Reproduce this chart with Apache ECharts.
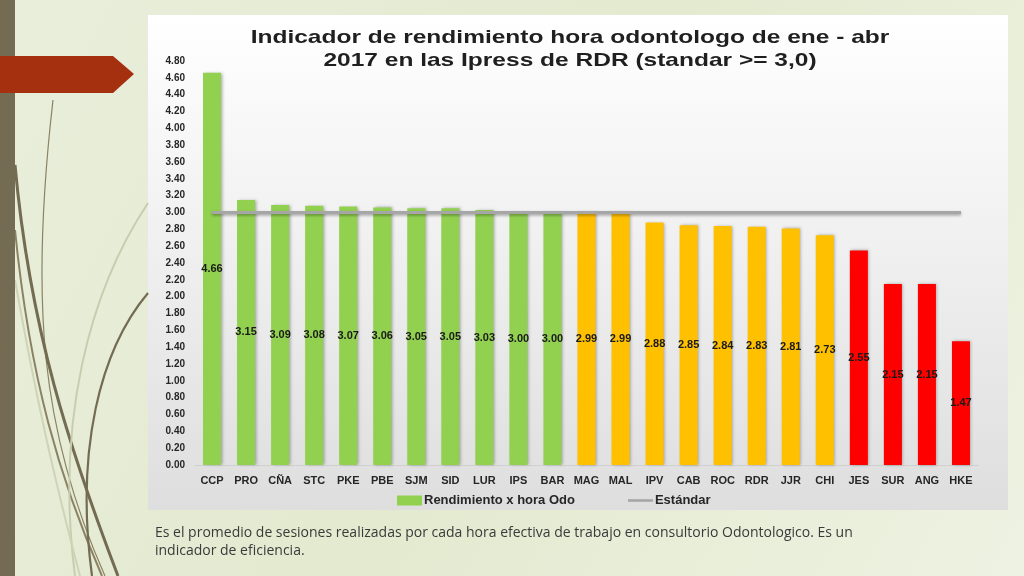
<!DOCTYPE html>
<html><head><meta charset="utf-8">
<script src="https://cdn.jsdelivr.net/npm/echarts@6/dist/echarts.min.js"></script>
<style>html,body{margin:0;padding:0;}#c{width:1024px;height:576px;}</style>
</head><body><div id="c"></div>
<script>
var categories = ['CCP','PRO','CÑA','STC','PKE','PBE','SJM','SID','LUR','IPS','BAR','MAG','MAL','IPV','CAB','ROC','RDR','JJR','CHI','JES','SUR','ANG','HKE'];
var rendimiento = [4.66,3.15,3.09,3.08,3.07,3.06,3.05,3.05,3.03,3.00,3.00,2.99,2.99,2.88,2.85,2.84,2.83,2.81,2.73,2.55,2.15,2.15,1.47];
var estandar = [3.0,3.0,3.0,3.0,3.0,3.0,3.0,3.0,3.0,3.0,3.0,3.0,3.0,3.0,3.0,3.0,3.0,3.0,3.0,3.0,3.0,3.0,3.0];
var yTicks = {min:0, max:4.8, interval:0.2};
var titleText = 'Indicador de rendimiento hora odontologo de ene - abr\n2017 en las Ipress de RDR (standar >= 3,0)';

function barColor(v){ return v >= 3.0 ? '#92d050' : (v >= 2.6 ? '#ffc000' : '#ff0000'); }

var chart = echarts.init(document.getElementById('c'));
var font = '"Liberation Sans", Arial, sans-serif';
chart.setOption({
  backgroundColor: {type:'linear',x:0,y:0,x2:1,y2:1,colorStops:[{offset:0,color:'#e9eedb'},{offset:0.5,color:'#e3eacf'},{offset:1,color:'#eef2e2'}]},
  graphic: [
    {type:'rect', z:-10, shape:{x:148,y:15,width:860,height:495}, style:{fill:{type:'linear',x:0,y:0,x2:0,y2:1,colorStops:[{offset:0,color:'#ffffff'},{offset:0.55,color:'#ededed'},{offset:1,color:'#dedede'}]}}},
    {type:'rect', z:-5, shape:{x:0,y:0,width:15,height:576}, style:{fill:'#736b52'}},
    {type:'polygon', z:-5, shape:{points:[[0,56],[113,56],[134,74],[113,93],[0,93]]}, style:{fill:'#a5300f'}},
    {type:'bezierCurve', z:-6, shape:{x1:53,y1:100,cpx1:30,cpy1:300,cpx2:40,cpy2:430,x2:105,y2:576}, style:{stroke:'#8a8262',lineWidth:1.2,fill:null}},
    {type:'bezierCurve', z:-6, shape:{x1:15,y1:165,cpx1:30,cpy1:330,cpx2:70,cpy2:450,x2:118,y2:576}, style:{stroke:'#736b52',lineWidth:3,fill:null}},
    {type:'bezierCurve', z:-6, shape:{x1:15,y1:230,cpx1:30,cpy1:380,cpx2:60,cpy2:480,x2:102,y2:576}, style:{stroke:'#8a8262',lineWidth:2,fill:null}},
    {type:'bezierCurve', z:-6, shape:{x1:148,y1:203,cpx1:90,cpy1:290,cpx2:55,cpy2:420,x2:75,y2:576}, style:{stroke:'#c9cdb0',lineWidth:2,fill:null}},
    {type:'bezierCurve', z:-6, shape:{x1:148,y1:293,cpx1:100,cpy1:350,cpx2:75,cpy2:450,x2:92,y2:576}, style:{stroke:'#736b52',lineWidth:2.2,fill:null}},
    {type:'bezierCurve', z:-6, shape:{x1:15,y1:280,cpx1:40,cpy1:420,cpx2:60,cpy2:500,x2:80,y2:576}, style:{stroke:'#cfd3b8',lineWidth:2,fill:null}},
    {type:'text', x:570, y:26, scaleX:1.29, style:{text:titleText, font:'bold 19px "Liberation Sans", Arial, sans-serif', fill:'#1f1f1f', textAlign:'center', textVerticalAlign:'top', verticalAlign:'top', lineHeight:23}},
    {type:'text', left:155, top:524, style:{text:'Es el promedio de sesiones realizadas por cada hora efectiva de trabajo en consultorio Odontologico. Es un\nindicador de eficiencia.', font:'14px "Open Sans", "Liberation Sans", sans-serif', fill:'#3a3a3a', lineHeight:18}}
  ],
  legend: {
    left: 392, top: 489, itemWidth: 25, itemHeight: 10, itemGap: 53,
    textStyle: {fontFamily: font, fontSize: 13, fontWeight: 'bold', color: '#262626', padding:[0,0,0,-3]},
    data: [
      {name:'Rendimiento x hora Odo', icon:'rect', itemStyle:{color:'#92d050'}},
      {name:'Estándar', icon:'path://M0,0L24,0L24,2.5L0,2.5Z', itemStyle:{color:'#a6a6a6'}}
    ]
  },
  grid: {left: 195, right: 46, top: 61, bottom: 111},
  xAxis: {
    type: 'category', data: categories,
    axisLine: {lineStyle: {color: '#d0d0d0'}}, axisTick: {show: false},
    axisLabel: {fontFamily: font, fontSize: 11, fontWeight: 'bold', color: '#262626', margin: 10, interval: 0}
  },
  yAxis: {
    type: 'value', min: yTicks.min, max: yTicks.max, interval: yTicks.interval,
    splitLine: {show: false}, axisLine: {show: false}, axisTick: {show: false},
    axisLabel: {fontFamily: font, fontSize: 10, fontWeight: 'bold', color: '#262626', margin: 10, formatter: function(v){return v.toFixed(2);}}
  },
  series: [
    {
      name: 'Rendimiento x hora Odo', type: 'bar', barWidth: '53%',
      data: rendimiento.map(function(v){ return {value: v, itemStyle: {color: barColor(v)}}; }),
      itemStyle: {shadowBlur: 3, shadowColor: 'rgba(0,0,0,0.3)', shadowOffsetX: 1.5, shadowOffsetY: 0},
      label: {show: true, position: 'inside', fontFamily: font, fontSize: 11, fontWeight: 'bold', color: '#1a1a1a', formatter: function(p){return p.value.toFixed(2);}}
    },
    {
      name: 'Estándar', type: 'line', data: estandar, symbol: 'none', z: 5,
      lineStyle: {color: '#a6a6a6', width: 3, shadowBlur: 3, shadowColor: 'rgba(0,0,0,0.35)', shadowOffsetY: 1.5},
      itemStyle: {color: '#a6a6a6'}
    }
  ]
});
</script></body></html>
